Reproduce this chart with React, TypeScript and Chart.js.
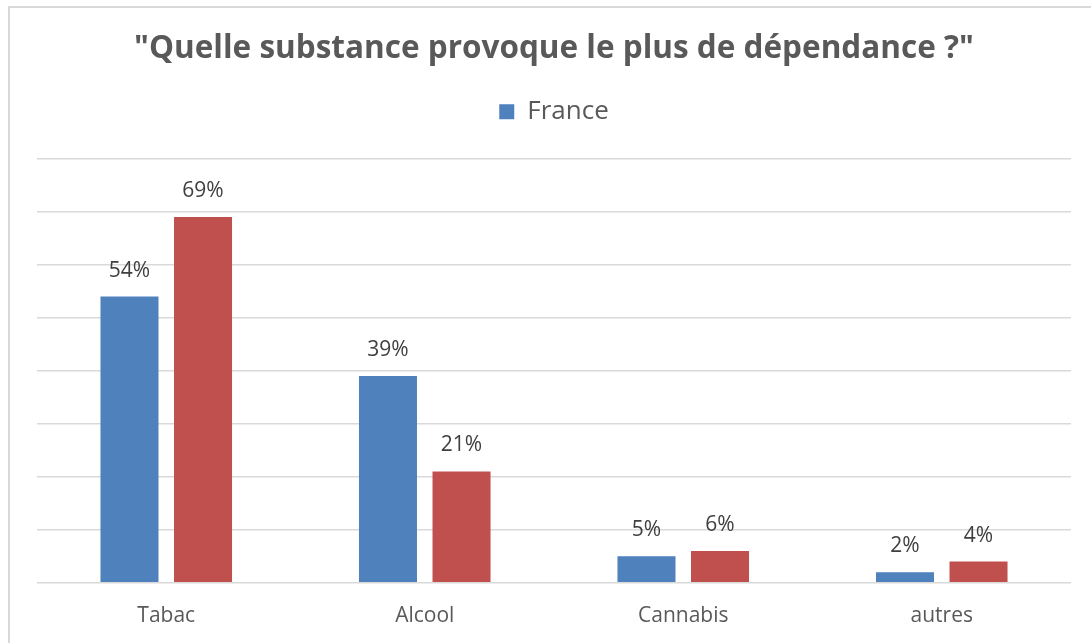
import React, { useEffect, useRef } from "react";
import { Chart, registerables } from "chart.js";

Chart.register(...registerables);

const categories = ["Tabac", "Alcool", "Cannabis", "autres"];
const franceValues = [54, 39, 5, 2];
const secondValues = [69, 21, 6, 4];
const seriesNames = ["France", "Autre"];
const chartTitle = '"Quelle substance provoque le plus de dépendance ?"';

const FONT = "'Open Sans', 'Noto Sans', sans-serif";

const legendSpacingPlugin = {
  id: "legendSpacing",
  beforeInit(chart: any) {
    const legend = chart.legend;
    if (!legend) return;
    const origFit = legend.fit;
    legend.fit = function () {
      origFit.call(this);
      this.height += 24;
    };
  },
};

const dataLabelPlugin = {
  id: "dataLabels",
  afterDatasetsDraw(chart: any) {
    const ctx = chart.ctx;
    ctx.save();
    ctx.font = `21px ${FONT}`;
    ctx.fillStyle = "#404040";
    ctx.textAlign = "center";
    ctx.textBaseline = "middle";
    chart.data.datasets.forEach((ds: any, i: number) => {
      const meta = chart.getDatasetMeta(i);
      meta.data.forEach((bar: any, j: number) => {
        ctx.fillText(ds.data[j] + "%", bar.x, bar.y - 26);
      });
    });
    ctx.restore();
  },
};

export default function App() {
  const ref = useRef<HTMLCanvasElement>(null);
  useEffect(() => {
    const chart = new Chart(ref.current!, {
      type: "bar",
      data: {
        labels: categories,
        datasets: [
          { label: seriesNames[0], data: franceValues, backgroundColor: "#4f81bd" },
          { label: seriesNames[1], data: secondValues, backgroundColor: "#c0504d" },
        ],
      },
      options: {
        animation: false,
        responsive: false,
        maintainAspectRatio: false,
        layout: { padding: { left: 37, right: 20, top: 30, bottom: 1 } },
        datasets: { bar: { categoryPercentage: 0.569, barPercentage: 0.789 } },
        plugins: {
          title: {
            display: true,
            text: chartTitle,
            color: "#595959",
            font: { family: FONT, size: 31.5, weight: "bold" },
            padding: { top: 0, bottom: 6 },
          },
          legend: {
            display: true,
            labels: {
              filter: (item: any) => item.datasetIndex === 0,
              boxWidth: 15,
              boxHeight: 15,
              color: "#595959",
              font: { family: FONT, size: 26 },
              padding: 25,
            },
          },
          tooltip: { enabled: false },
        },
        scales: {
          x: {
            grid: { display: false },
            border: { display: false },
            ticks: { color: "#595959", font: { family: FONT, size: 21 }, padding: 13 },
          },
          y: {
            min: 0,
            max: 80,
            ticks: { display: false, stepSize: 10 },
            border: { display: false },
            grid: { color: "#d9d9d9", lineWidth: 1.5, drawTicks: false },
          },
        },
      },
      plugins: [legendSpacingPlugin, dataLabelPlugin],
    });
    return () => chart.destroy();
  }, []);
  return (
    <div style={{ position: "fixed", left: 0, top: 0, width: 1091, height: 643, overflow: "hidden", background: "#fff" }}>
      <div style={{ position: "absolute", left: 8, top: 6, width: 1100, height: 660, border: "2px solid #d9d9d9", boxSizing: "border-box" }} />
      <canvas ref={ref} width={1091} height={643} style={{ position: "absolute", left: 0, top: 0 }} />
    </div>
  );
}
